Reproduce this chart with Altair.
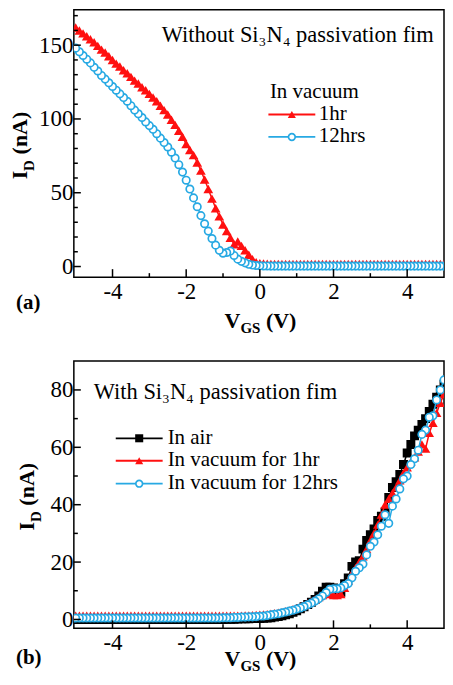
import altair as alt
import pandas as pd

# ---------------- data ----------------
VGS = [round(-5 + 0.1 * i, 1) for i in range(101)]

# panel (a): without Si3N4 passivation film
A_1HR = [162, 160, 158, 156, 154, 152, 149.5, 147, 145, 142.5,
         140, 137.5, 135.5, 133, 131, 128.5, 126, 124, 121.5, 119.5,
         117, 114.5, 112, 109, 106, 103, 99.5, 96, 92, 88,
         83, 79, 75.5, 70.5, 65, 59, 52.5, 46, 39.5, 34,
         28.5, 24, 19.5, 15, 17, 14, 11, 8, 5, 3,
         2.2,
         2.0, 1.9, 1.8, 1.8, 1.8, 1.7, 1.7, 1.7, 1.7, 1.7,
         1.7, 1.7, 1.7, 1.7, 1.7, 1.7, 1.7, 1.7, 1.7, 1.7,
         1.7, 1.7, 1.7, 1.7, 1.7, 1.7, 1.7, 1.7, 1.7, 1.7,
         1.7, 1.7, 1.7, 1.7, 1.7, 1.7, 1.7, 1.7, 1.7, 1.7,
         1.7, 1.7, 1.7, 1.7, 1.7, 1.7, 1.7, 1.7, 1.7, 1.7]
A_12HRS = [148, 145.5, 143, 140.5, 138, 135, 132.5, 129.5, 127, 124.5,
           122, 119.5, 117, 114.5, 112, 109, 106, 103.5, 101, 98,
           95.5, 93, 90, 87, 84, 81, 77.5, 73.5, 69, 64,
           58.5, 52.5, 46.5, 40.5, 34.5, 29, 24, 19, 14.5, 11,
           9, 9.5, 10.5, 7.5, 5, 3.5, 2.5, 1.5, 1.0, 0.7,
           0.5,
           0.4, 0.4, 0.3, 0.3, 0.3, 0.3, 0.3, 0.3, 0.3, 0.3,
           0.3, 0.3, 0.3, 0.3, 0.3, 0.3, 0.3, 0.3, 0.3, 0.3,
           0.3, 0.3, 0.3, 0.3, 0.3, 0.3, 0.3, 0.3, 0.3, 0.3,
           0.3, 0.3, 0.3, 0.3, 0.3, 0.3, 0.3, 0.3, 0.3, 0.3,
           0.3, 0.3, 0.3, 0.3, 0.3, 0.3, 0.3, 0.3, 0.3, 0.3]

# panel (b): with Si3N4 passivation film
B_AIR = [0.0, 0.0, 0.0, 0.0, 0.0, 0.0, 0.0, 0.0, 0.0, 0.0,
         0.0, 0.0, 0.0, 0.0, 0.0, 0.0, 0.0, 0.0, 0.0, 0.0,
         0.0, 0.0, 0.0, 0.0, 0.0, 0.0, 0.0, 0.0, 0.0, 0.0,
         0.0, 0.0, 0.0, 0.0, 0.0, 0.0, 0.0, 0.0, 0.0, 0.0,
         0.0, 0.05, 0.1, 0.1, 0.15, 0.2, 0.2, 0.25, 0.3, 0.3,
         0.3,
         0.4, 0.5, 0.6, 0.8, 1.0, 1.3, 1.6, 2.0, 2.5, 3.0,
         3.7, 4.4, 5.2, 6.0, 7.0, 8.2, 9.8, 11.2, 11.2, 11.0,
         9.5, 9.5, 12.5, 14.5, 18.5, 20.0, 20.5, 24.5, 27.5, 29.5,
         31.5, 34.5, 36.0, 37.5, 42.5, 46.0, 48.0, 50.5, 54.0, 58.0,
         61.0, 64.0, 66.0, 68.0, 70.0, 72.5, 75.0, 77.5, 80.0, 82.0]
B_VAC1 = [1.3, 1.3, 1.3, 1.3, 1.3, 1.3, 1.3, 1.3, 1.3, 1.3,
          1.3, 1.3, 1.3, 1.3, 1.3, 1.3, 1.3, 1.3, 1.3, 1.3,
          1.3, 1.3, 1.3, 1.3, 1.3, 1.3, 1.3, 1.3, 1.3, 1.3,
          1.3, 1.3, 1.3, 1.3, 1.3, 1.3, 1.3, 1.3, 1.3, 1.3,
          1.3, 1.3, 1.3, 1.3, 1.3, 1.3, 1.4, 1.4, 1.5, 1.6,
          1.7,
          1.8, 1.9, 2.0, 2.2, 2.4, 2.6, 2.9, 3.2, 3.6, 4.0,
          4.5, 5.0, 5.6, 6.3, 7.0, 7.8, 8.5, 9.0, 8.8, 8.5,
          8.5, 8.8, 11.0, 13.5, 16.0, 18.0, 20.0, 22.0, 24.5, 27.5,
          30.0, 33.0, 36.5, 40.0, 42.0, 44.0, 46.0, 48.5, 51.0, 53.0,
          55.0, 56.5, 58.5, 61.0, 59.5, 65.0, 68.5, 72.0, 75.5, 78.5]
B_VAC12 = [0.5, 0.5, 0.5, 0.5, 0.5, 0.5, 0.5, 0.5, 0.5, 0.5,
           0.5, 0.5, 0.5, 0.5, 0.5, 0.5, 0.5, 0.5, 0.5, 0.5,
           0.5, 0.5, 0.5, 0.5, 0.5, 0.5, 0.5, 0.5, 0.5, 0.5,
           0.5, 0.5, 0.5, 0.5, 0.5, 0.5, 0.5, 0.5, 0.5, 0.5,
           0.6, 0.6, 0.6, 0.7, 0.7, 0.8, 0.8, 0.9, 0.9, 1.0,
           1.1,
           1.2, 1.4, 1.6, 1.8, 2.0, 2.3, 2.6, 2.9, 3.2, 3.6,
           4.0, 4.5, 5.1, 5.7, 6.4, 7.2, 8.2, 9.4, 10.5, 10.7,
           10.7, 11.0, 11.8, 12.5, 14.5, 16.8, 18.0, 19.3, 22.5, 25.5,
           27.0, 29.5, 32.5, 36.5, 33.5, 39.5, 42.0, 45.5, 49.0, 50.0,
           54.0, 56.0, 59.0, 64.5, 66.0, 70.5, 71.0, 76.5, 80.0, 83.5]

X_MAJOR = [-4, -2, 0, 2, 4]
X_MINOR = [-3, -1, 1, 3]
A_Y_MAJOR = [0, 50, 100, 150]
A_Y_MINOR = [10, 20, 30, 40, 60, 70, 80, 90, 110, 120, 130, 140, 160, 170]
B_Y_MAJOR = [0, 20, 40, 60, 80]
B_Y_MINOR = [10, 30, 50, 70]

A_TITLE = "Without Si\u2083N\u2084 passivation fim"
B_TITLE = "With Si\u2083N\u2084 passivation fim"
A_LEG_HEAD = "In vacuum"
A_LEG = ["1hr", "12hrs"]
B_LEG = ["In air", "In vacuum for 1hr", "In vacuum for 12hrs"]

# ---------------- style ----------------
RED = "#ff1010"
BLUE = "#27a9e3"
BLACK = "#000000"
FONT = "Liberation Serif"
W, H = 371, 268
ONE = pd.DataFrame({"k": [0]})


def axes(ydom, yvals):
    xs = alt.Scale(domain=[-5.05, 5.0], nice=False, zero=False)
    ys = alt.Scale(domain=ydom, nice=False, zero=False)
    common = dict(ticks=False, domain=False, grid=False, labelFontSize=23,
                  labelFont=FONT, labelColor="black", title=None,
                  labelExpr="datum.value + ''")
    xa = alt.Axis(values=X_MAJOR, labelPadding=3, labelFlush=False, **common)
    ya = alt.Axis(values=yvals, labelPadding=1, **common)
    return xs, xa, ys, ya


def series(vals, color, shape, size, open_marker=False):
    df = pd.DataFrame({"V": VGS, "I": vals})
    line = alt.Chart(df).mark_line(color=color, strokeWidth=1.5, clip=True).encode(
        x="V:Q", y="I:Q")
    if open_marker:
        mk = alt.Chart(df.iloc[::-1]).mark_point(
            shape=shape, filled=True, fill="white", stroke=color, strokeWidth=1.7,
            size=size, opacity=1, clip=True)
    else:
        mk = alt.Chart(df.iloc[::-1]).mark_point(
            shape=shape, filled=True, color=color, size=size, opacity=1, clip=True)
    return [line, mk.encode(x="V:Q", y="I:Q")]


def ticks(ymaj, ymin):
    out = []
    for vals, ln in ((X_MAJOR, 8), (X_MINOR, 4)):
        out.append(alt.Chart(pd.DataFrame({"V": vals})).mark_rule(
            color="black", strokeWidth=1.5).encode(
            x="V:Q", y=alt.value(H), y2=alt.value(H - ln)))
    for vals, ln in ((ymaj, 7), (ymin, 4)):
        out.append(alt.Chart(pd.DataFrame({"I": vals})).mark_rule(
            color="black", strokeWidth=1.5).encode(
            y="I:Q", x=alt.value(0), x2=alt.value(ln)))
    return out


def txt(s, x, y, size=22, bold=False, angle=0):
    kw = dict(text=s, font=FONT, fontSize=size, align="left",
              baseline="alphabetic", color="black")
    if bold:
        kw["fontWeight"] = "bold"
    if angle:
        kw["angle"] = angle
    return alt.Chart(ONE).mark_text(**kw).encode(x=alt.value(x), y=alt.value(y))


def axis_titles(ix, panel_label, label_y, vgs_y):
    t = []
    # I_D (nA), rotated
    t.append(txt("I", ix, 170, 22, True, 270))
    t.append(txt("D", ix + 7, 161.5, 15, True, 270))
    t.append(txt("(nA)", ix, 145, 22, True, 270))
    # V_GS (V)
    t.append(txt("V", 151, vgs_y, 22, True))
    t.append(txt("GS", 167, vgs_y + 4.5, 15, True))
    t.append(txt("(V)", 192.5, vgs_y, 22, True))
    # panel label
    t.append(txt(panel_label, -58, label_y, 21, True))
    return t


def legend_row(color, shape, size, open_marker, x1, x2, y, label, tx):
    out = [alt.Chart(ONE).mark_rule(color=color, strokeWidth=1.8).encode(
        x=alt.value(x1), x2=alt.value(x2), y=alt.value(y))]
    cx = (x1 + x2) / 2
    if open_marker:
        m = alt.Chart(ONE).mark_point(shape=shape, filled=True, fill="white",
                                      stroke=color, strokeWidth=1.7, size=size,
                                      opacity=1)
    else:
        m = alt.Chart(ONE).mark_point(shape=shape, filled=True, color=color,
                                      size=size, opacity=1)
    out.append(m.encode(x=alt.value(cx), y=alt.value(y)))
    out.append(txt(label, tx, y + 5.5, 21))
    return out


def base(ydom, yvals):
    xs, xa, ys, ya = axes(ydom, yvals)
    return alt.Chart(pd.DataFrame({"V": [-5.05, 5.0], "I": [0, 0]})).mark_point(
        opacity=0, clip=True).encode(x=alt.X("V:Q", scale=xs, axis=xa),
                                     y=alt.Y("I:Q", scale=ys, axis=ya))


# ---------------- panel (a) ----------------
layers_a = [base([-7.2, 174], A_Y_MAJOR)]
layers_a += series(A_1HR, RED, "triangle-up", 95)
layers_a += series(A_12HRS, BLUE, "circle", 55, open_marker=True)
layers_a += ticks(A_Y_MAJOR, A_Y_MINOR)
layers_a.append(txt(A_TITLE, 88, 32.5, 22.5))
layers_a.append(txt(A_LEG_HEAD, 196.5, 88, 21))
layers_a += legend_row(RED, "triangle-up", 65, False, 195, 242, 105, A_LEG[0], 245.5)
layers_a += legend_row(BLUE, "circle", 45, True, 195, 242, 127.5, A_LEG[1], 245.5)
layers_a += axis_titles(-47, "(a)", 300, 319)
panel_a = alt.layer(*layers_a).properties(width=W, height=H)

# ---------------- panel (b) ----------------
layers_b = [base([-3.1, 90.1], B_Y_MAJOR)]
layers_b += series(B_AIR, BLACK, "square", 80)
layers_b += series(B_VAC1, RED, "triangle-up", 90)
layers_b += series(B_VAC12, BLUE, "circle", 55, open_marker=True)
layers_b += ticks(B_Y_MAJOR, B_Y_MINOR)
layers_b.append(txt(B_TITLE, 20, 38.5, 22.5))
layers_b += legend_row(BLACK, "square", 65, False, 42, 89, 77.5, B_LEG[0], 94)
layers_b += legend_row(RED, "triangle-up", 65, False, 42, 89, 100, B_LEG[1], 94)
layers_b += legend_row(BLUE, "circle", 45, True, 42, 89, 123, B_LEG[2], 94)
layers_b += axis_titles(-40, "(b)", 304, 306)
panel_b = alt.layer(*layers_b).properties(width=W, height=H)

chart = alt.vconcat(panel_a, panel_b, spacing=84, bounds="flush").properties(
    padding={"left": 0, "top": 0, "right": 0, "bottom": 0}
).configure_view(stroke="black", strokeWidth=1.5)

chart.save("out.html", embed_options={"renderer": "svg", "actions": False})
